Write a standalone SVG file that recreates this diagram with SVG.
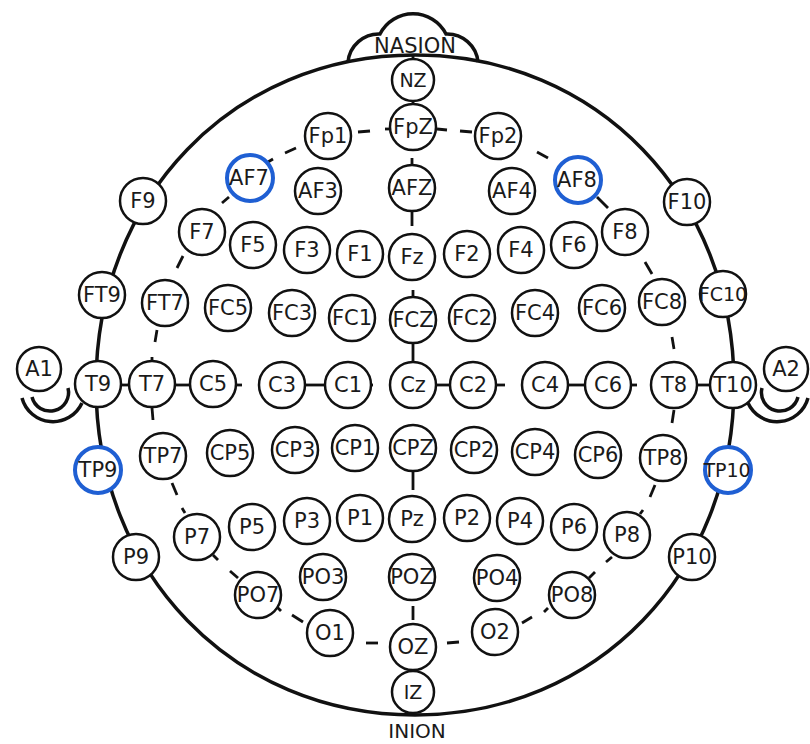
<svg xmlns="http://www.w3.org/2000/svg" width="810" height="744" viewBox="0 0 810 744">
<style>
.e circle{fill:#fff;stroke:#111;stroke-width:2.5}
.b circle{stroke:#1f5fd3;stroke-width:4}
text{font-family:"DejaVu Sans",Verdana,sans-serif;font-size:21px;text-anchor:middle;fill:#1a1a1a}
.s text{font-size:19px}
.ln{stroke:#111;stroke-width:2.8;fill:none;stroke-linecap:butt}
.hd{stroke:#111;stroke-width:3.5;fill:none}
</style>
<rect width="810" height="744" fill="#fff"/>
<g id="head">
<path class="hd" d="M415,55 C596.8,55 734,196.9 734,385 C734,573.1 596.8,715 415,715 C233.2,715 96,573.1 96,385 C96,196.9 233.2,55 415,55 Z"/>
<path class="hd" d="M348,62 A31,31 0 0 1 380,34 A37,37 0 0 1 446,34 A31,31 0 0 1 478,62"/>
<text x="415" y="53">NASION</text>
<text x="417" y="738" style="font-size:20px">INION</text>
<path class="hd" d="M32,397 A18,18 0 0 0 68,388"/>
<path class="hd" d="M22,398 A32,32 0 0 0 82,403"/>
<path class="hd" d="M798,397 A18,18 0 0 1 762,388"/>
<path class="hd" d="M808,398 A32,32 0 0 1 748,403"/>
</g>
<g id="connectors" class="ln">
<line x1="413" y1="54" x2="413" y2="60"/>
<line x1="413" y1="100" x2="413" y2="105"/>
<line x1="412" y1="158" x2="412" y2="166"/>
<line x1="412" y1="211" x2="412" y2="226"/>
<line x1="413" y1="290" x2="413" y2="298"/>
<line x1="413" y1="343" x2="413" y2="362"/>
<line x1="413" y1="471" x2="413" y2="490"/>
<line x1="413" y1="606" x2="413" y2="620"/>
<line x1="121" y1="385" x2="129" y2="385"/>
<line x1="175" y1="385" x2="190" y2="385"/>
<line x1="236" y1="385" x2="242" y2="385"/>
<line x1="305" y1="385" x2="325" y2="385"/>
<line x1="370" y1="385" x2="373" y2="385"/>
<line x1="436" y1="385" x2="450" y2="385"/>
<line x1="496" y1="385" x2="505" y2="385"/>
<line x1="568" y1="385" x2="585" y2="385"/>
<line x1="631" y1="385" x2="637" y2="385"/>
<line x1="697" y1="385" x2="710" y2="385"/>
<line x1="358" y1="132" x2="370" y2="131"/>
<line x1="385" y1="129" x2="389" y2="129"/>
<line x1="437" y1="129" x2="447" y2="130"/>
<line x1="460" y1="131" x2="472" y2="132"/>
<line x1="537" y1="152" x2="548" y2="158"/>
<line x1="285" y1="153" x2="296" y2="148"/>
<line x1="268" y1="162" x2="273" y2="159"/>
<line x1="222" y1="203" x2="229" y2="197"/>
<line x1="597" y1="197" x2="608" y2="208"/>
<line x1="177" y1="268" x2="183" y2="256"/>
<line x1="645" y1="262" x2="652" y2="274"/>
<line x1="155" y1="342" x2="157" y2="330"/>
<line x1="152" y1="357" x2="152" y2="361"/>
<line x1="672" y1="337" x2="674" y2="349"/>
<line x1="152" y1="408" x2="153" y2="420"/>
<line x1="674" y1="410" x2="672" y2="423"/>
<line x1="172" y1="483" x2="177" y2="495"/>
<line x1="182" y1="508" x2="185" y2="513"/>
<line x1="655" y1="485" x2="650" y2="497"/>
<line x1="643" y1="510" x2="640" y2="514"/>
<line x1="213" y1="555" x2="218" y2="560"/>
<line x1="230" y1="571" x2="238" y2="578"/>
<line x1="612" y1="557" x2="606" y2="562"/>
<line x1="595" y1="572" x2="589" y2="578"/>
<line x1="277" y1="607" x2="281" y2="611"/>
<line x1="292" y1="615" x2="303" y2="622"/>
<line x1="548" y1="608" x2="544" y2="612"/>
<line x1="532" y1="617" x2="522" y2="623"/>
<line x1="366" y1="643" x2="378" y2="643"/>
<line x1="447" y1="643" x2="459" y2="642"/>
</g>
<g id="nodes">
<g id="NZ" class="e s"><circle cx="413" cy="80" r="21"/><text x="413" y="87">NZ</text></g>
<g id="Fp1" class="e"><circle cx="328" cy="136" r="23"/><text x="328" y="143">Fp1</text></g>
<g id="FpZ" class="e"><circle cx="413" cy="127" r="23"/><text x="413" y="134">FpZ</text></g>
<g id="Fp2" class="e"><circle cx="498" cy="136" r="23"/><text x="498" y="143">Fp2</text></g>
<g id="AF7" class="e b"><circle cx="250" cy="178" r="23"/><text x="249" y="185">AF7</text></g>
<g id="AF3" class="e"><circle cx="318" cy="191" r="23"/><text x="318" y="198">AF3</text></g>
<g id="AFZ" class="e"><circle cx="412" cy="188" r="23"/><text x="412" y="195">AFZ</text></g>
<g id="AF4" class="e"><circle cx="512" cy="191" r="23"/><text x="512" y="198">AF4</text></g>
<g id="AF8" class="e b"><circle cx="578" cy="180" r="23"/><text x="577" y="187">AF8</text></g>
<g id="F9" class="e"><circle cx="143" cy="201" r="23"/><text x="143" y="208">F9</text></g>
<g id="F10" class="e"><circle cx="687" cy="202" r="23"/><text x="687" y="209">F10</text></g>
<g id="F7" class="e"><circle cx="202" cy="232" r="23"/><text x="202" y="239">F7</text></g>
<g id="F5" class="e"><circle cx="253" cy="245" r="23"/><text x="253" y="252">F5</text></g>
<g id="F3" class="e"><circle cx="307" cy="250" r="23"/><text x="307" y="257">F3</text></g>
<g id="F1" class="e"><circle cx="360" cy="254" r="23"/><text x="360" y="261">F1</text></g>
<g id="Fz" class="e"><circle cx="412" cy="257" r="23"/><text x="412" y="264">Fz</text></g>
<g id="F2" class="e"><circle cx="467" cy="254" r="23"/><text x="467" y="261">F2</text></g>
<g id="F4" class="e"><circle cx="521" cy="250" r="23"/><text x="521" y="257">F4</text></g>
<g id="F6" class="e"><circle cx="574" cy="245" r="23"/><text x="574" y="252">F6</text></g>
<g id="F8" class="e"><circle cx="625" cy="232" r="23"/><text x="625" y="239">F8</text></g>
<g id="FT9" class="e"><circle cx="102" cy="295" r="23"/><text x="102" y="302">FT9</text></g>
<g id="FT7" class="e"><circle cx="165" cy="303" r="23"/><text x="165" y="310">FT7</text></g>
<g id="FC5" class="e"><circle cx="228" cy="308" r="23"/><text x="228" y="315">FC5</text></g>
<g id="FC3" class="e"><circle cx="292" cy="313" r="23"/><text x="292" y="320">FC3</text></g>
<g id="FC1" class="e"><circle cx="352" cy="318" r="23"/><text x="352" y="325">FC1</text></g>
<g id="FCZ" class="e"><circle cx="413" cy="320" r="23"/><text x="413" y="327">FCZ</text></g>
<g id="FC2" class="e"><circle cx="472" cy="318" r="23"/><text x="472" y="325">FC2</text></g>
<g id="FC4" class="e"><circle cx="535" cy="313" r="23"/><text x="535" y="320">FC4</text></g>
<g id="FC6" class="e"><circle cx="602" cy="308" r="23"/><text x="602" y="315">FC6</text></g>
<g id="FC8" class="e"><circle cx="662" cy="302" r="23"/><text x="662" y="309">FC8</text></g>
<g id="FC10" class="e s"><circle cx="723" cy="294" r="23"/><text x="723" y="301">FC10</text></g>
<g id="A1" class="e"><circle cx="39" cy="369" r="22"/><text x="39" y="376">A1</text></g>
<g id="T9" class="e"><circle cx="98" cy="384" r="23"/><text x="98" y="391">T9</text></g>
<g id="T7" class="e"><circle cx="152" cy="384" r="23"/><text x="152" y="391">T7</text></g>
<g id="C5" class="e"><circle cx="213" cy="384" r="23"/><text x="213" y="391">C5</text></g>
<g id="C3" class="e"><circle cx="282" cy="385" r="23"/><text x="282" y="392">C3</text></g>
<g id="C1" class="e"><circle cx="348" cy="385" r="23"/><text x="348" y="392">C1</text></g>
<g id="Cz" class="e"><circle cx="413" cy="385" r="23"/><text x="413" y="392">Cz</text></g>
<g id="C2" class="e"><circle cx="473" cy="385" r="23"/><text x="473" y="392">C2</text></g>
<g id="C4" class="e"><circle cx="545" cy="385" r="23"/><text x="545" y="392">C4</text></g>
<g id="C6" class="e"><circle cx="608" cy="385" r="23"/><text x="608" y="392">C6</text></g>
<g id="T8" class="e"><circle cx="674" cy="385" r="23"/><text x="674" y="392">T8</text></g>
<g id="T10" class="e"><circle cx="733" cy="385" r="23"/><text x="733" y="392">T10</text></g>
<g id="A2" class="e"><circle cx="786" cy="369" r="22"/><text x="786" y="376">A2</text></g>
<g id="TP9" class="e b"><circle cx="98" cy="470" r="23"/><text x="98" y="477">TP9</text></g>
<g id="TP7" class="e"><circle cx="163" cy="456" r="23"/><text x="163" y="463">TP7</text></g>
<g id="CP5" class="e"><circle cx="230" cy="453" r="23"/><text x="230" y="460">CP5</text></g>
<g id="CP3" class="e"><circle cx="295" cy="450" r="23"/><text x="295" y="457">CP3</text></g>
<g id="CP1" class="e"><circle cx="355" cy="448" r="23"/><text x="355" y="455">CP1</text></g>
<g id="CPZ" class="e"><circle cx="413" cy="448" r="23"/><text x="413" y="455">CPZ</text></g>
<g id="CP2" class="e"><circle cx="474" cy="450" r="23"/><text x="474" y="457">CP2</text></g>
<g id="CP4" class="e"><circle cx="535" cy="452" r="23"/><text x="535" y="459">CP4</text></g>
<g id="CP6" class="e"><circle cx="598" cy="455" r="23"/><text x="598" y="462">CP6</text></g>
<g id="TP8" class="e"><circle cx="663" cy="458" r="23"/><text x="663" y="465">TP8</text></g>
<g id="TP10" class="e b s"><circle cx="728" cy="470" r="23"/><text x="727" y="477">TP10</text></g>
<g id="P9" class="e"><circle cx="136" cy="557" r="23"/><text x="136" y="564">P9</text></g>
<g id="P7" class="e"><circle cx="197" cy="537" r="23"/><text x="197" y="544">P7</text></g>
<g id="P5" class="e"><circle cx="252" cy="527" r="23"/><text x="252" y="534">P5</text></g>
<g id="P3" class="e"><circle cx="307" cy="521" r="23"/><text x="307" y="528">P3</text></g>
<g id="P1" class="e"><circle cx="360" cy="518" r="23"/><text x="360" y="525">P1</text></g>
<g id="Pz" class="e"><circle cx="412" cy="519" r="23"/><text x="412" y="526">Pz</text></g>
<g id="P2" class="e"><circle cx="467" cy="518" r="23"/><text x="467" y="525">P2</text></g>
<g id="P4" class="e"><circle cx="520" cy="521" r="23"/><text x="520" y="528">P4</text></g>
<g id="P6" class="e"><circle cx="574" cy="527" r="23"/><text x="574" y="534">P6</text></g>
<g id="P8" class="e"><circle cx="627" cy="535" r="23"/><text x="627" y="542">P8</text></g>
<g id="P10" class="e"><circle cx="692" cy="557" r="23"/><text x="692" y="564">P10</text></g>
<g id="PO7" class="e"><circle cx="258" cy="595" r="23"/><text x="258" y="602">PO7</text></g>
<g id="PO3" class="e"><circle cx="323" cy="577" r="23"/><text x="323" y="584">PO3</text></g>
<g id="POZ" class="e"><circle cx="412" cy="577" r="23"/><text x="412" y="584">POZ</text></g>
<g id="PO4" class="e"><circle cx="497" cy="578" r="23"/><text x="497" y="585">PO4</text></g>
<g id="PO8" class="e"><circle cx="572" cy="595" r="23"/><text x="572" y="602">PO8</text></g>
<g id="O1" class="e"><circle cx="330" cy="633" r="23"/><text x="330" y="640">O1</text></g>
<g id="OZ" class="e"><circle cx="413" cy="647" r="23"/><text x="413" y="654">OZ</text></g>
<g id="O2" class="e"><circle cx="495" cy="632" r="23"/><text x="495" y="639">O2</text></g>
<g id="IZ" class="e s"><circle cx="413" cy="692" r="21"/><text x="413" y="699">IZ</text></g>
</g>
</svg>
